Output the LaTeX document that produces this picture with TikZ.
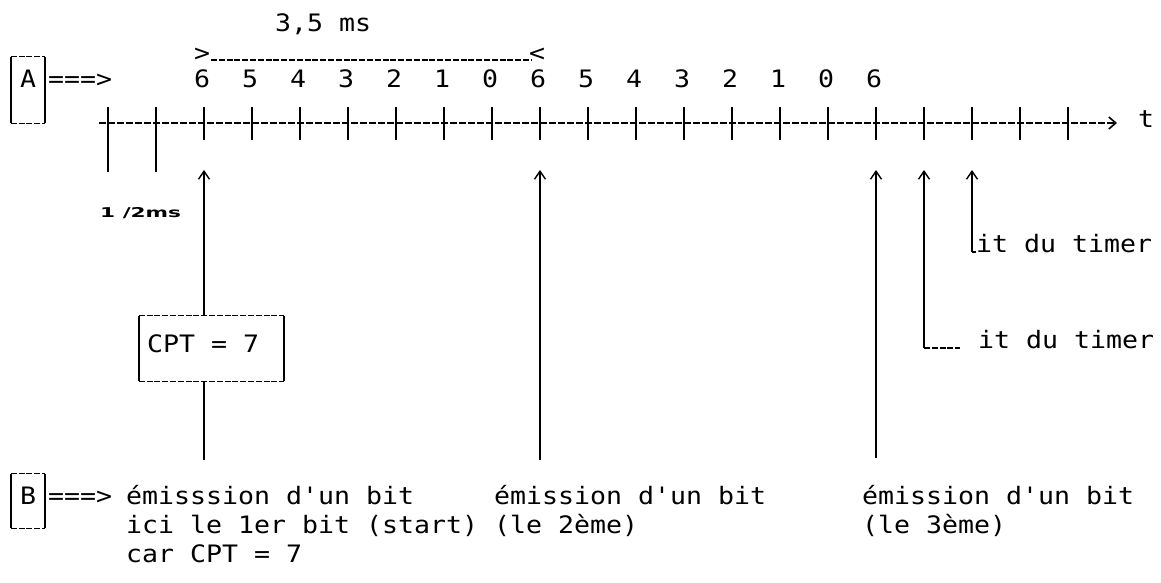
\documentclass[tikz,border=0pt]{standalone}
\usepackage{fontspec}
\setmonofont[FakeStretch=1.107]{DejaVu Sans Mono}
\newfontfamily\smallbold[FakeStretch=1.6]{DejaVu Sans}
\usetikzlibrary{arrows.meta}
\begin{document}
\begin{tikzpicture}[x=1pt,y=-1pt,
  txt/.style={inner sep=0pt, font=\ttfamily\fontsize{24}{29}\selectfont, text=black},
  tickline/.style={line width=1.8pt, draw=black},
  vline/.style={line width=1.8pt, draw=black},
  upar/.style={line width=1.8pt, draw=black, -{Straight Barb[length=8pt,width=11pt,line width=1.4pt]}},
  axisline/.style={line width=1.3pt, draw=black, dash pattern=on 7pt off 2pt, -{Straight Barb[length=7pt,width=12pt,line width=1.6pt]}},
  dashedge/.style={line width=1.3pt, draw=black, dash pattern=on 6pt off 1.8pt},
  solidedge/.style={line width=1.5pt, draw=black},
]
\useasboundingbox (0,0) rectangle (1161,582);

% title and bracket
\node[txt, anchor=base west] (dur) at (275,31) {3,5 ms};
\node[txt, anchor=base] (bl) at (202,61) {>};
\node[txt, anchor=base] (br) at (537,61) {<};
\coordinate (d0) at (211,60);
\coordinate (d1) at (531,60);
\draw[dashedge, line width=1.1pt] (d0) -- (d1);

% box A
\node[txt, anchor=base, text height=30pt, text depth=36pt, minimum width=34pt] (A) at (28,87) {A};
\draw[solidedge] (A.north west) -- (A.south west);
\draw[solidedge] (A.north east) -- (A.south east);
\draw[dashedge] (A.north west) -- (A.north east);
\draw[dashedge] (A.south west) -- (A.south east);
\node[txt, anchor=base west] (arrA) at (48,87) {===>};

% axis
\coordinate (ax0) at (99,123);
\coordinate (ax1) at (1117,123);
\draw[axisline] (ax0) -- (ax1);
\node[txt, anchor=base west] (t) at (1138,127) {t};

% ticks
\foreach \i in {0,...,20} {
  \draw[tickline] ({108+48*\i},107) -- ({108+48*\i},140);
}
\draw[tickline] (108,140) -- (108,172);
\draw[tickline] (156,140) -- (156,172);

% labels
\foreach \i/\l in {2/6,3/5,4/4,5/3,6/2,7/1,8/0,9/6,10/5,11/4,12/3,13/2,14/1,15/0,16/6} {
  \node[txt, anchor=base] (lab\i) at ({106+48*\i},87) {\l};
}

\node[inner sep=0pt, anchor=base west, font=\smallbold\bfseries\fontsize{13.5}{15}\selectfont] (half) at (100,217) {1 /2ms};

% CPT box
\node[minimum width=145pt, minimum height=65pt, inner sep=0pt] (cpt) at (211.5,348.5) {};
\draw[solidedge] (cpt.north west) -- (cpt.south west);
\draw[solidedge] (cpt.north east) -- (cpt.south east);
\draw[dashedge] (cpt.north west) -- (cpt.north east);
\draw[dashedge] (cpt.south west) -- (cpt.south east);
\node[txt, anchor=base west] (cpttxt) at (147,352) {CPT = 7};

% up arrows
\coordinate (p2b) at (204,460);
\coordinate (p2t) at (204,170);
\draw[vline] (p2b) -- (cpt.south -| p2b);
\draw[upar] (cpt.north -| p2b) -- (p2t);

\coordinate (p9b) at (540,460);
\coordinate (p9t) at (540,170);
\draw[upar] (p9b) -- (p9t);

\coordinate (p16b) at (876,458);
\coordinate (p16t) at (876,170);
\draw[upar] (p16b) -- (p16t);

\coordinate (c17) at (924,348);
\coordinate (p17t) at (924,170);
\draw[upar] (c17) -- (p17t);

\coordinate (c18) at (972,252);
\coordinate (p18t) at (972,170);
\draw[upar] (c18) -- (p18t);

% timer labels
\node[txt, anchor=base west] (tim1) at (976,252) {it du timer};
\node[txt, anchor=base west] (tim2) at (978,348) {it du timer};
\draw[vline, line width=1.4pt] (c18) -- (tim1.base west);
\draw[dashedge] (c17) -- ([xshift=-18pt]tim2.base west);

% box B
\node[txt, anchor=base, text height=30pt, text depth=24pt, minimum width=34pt] (B) at (28,504) {B};
\draw[solidedge] (B.north west) -- (B.south west);
\draw[solidedge] (B.north east) -- (B.south east);
\draw[dashedge] (B.north west) -- (B.north east);
\draw[dashedge] (B.south west) -- (B.south east);
\node[txt, anchor=base west] (arrB) at (48,504) {===>};

% bottom texts
\node[txt, anchor=base west] (e1a) at (126,504) {émisssion d'un bit};
\node[txt, anchor=base west] (e1b) at (126,533) {ici le 1er bit (start)};
\node[txt, anchor=base west] (e1c) at (126,562) {car CPT = 7};
\node[txt, anchor=base west] (e2a) at (494,504) {émission d'un bit};
\node[txt, anchor=base west] (e2b) at (494,533) {(le 2ème)};
\node[txt, anchor=base west] (e3a) at (862,504) {émission d'un bit};
\node[txt, anchor=base west] (e3b) at (862,533) {(le 3ème)};
\end{tikzpicture}
\end{document}
